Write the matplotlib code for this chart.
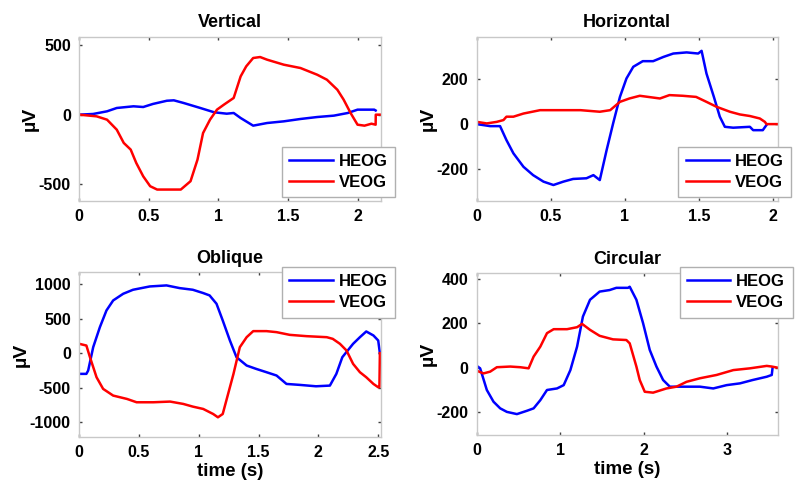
import numpy as np
import matplotlib
matplotlib.use('Agg')
import matplotlib.pyplot as plt

plt.rcParams['font.family'] = ['Liberation Sans', 'DejaVu Sans']
plt.rcParams['font.weight'] = 'bold'
plt.rcParams['axes.unicode_minus'] = False

# Vertical
v_t_h = [0, 0.1, 0.2, 0.27, 0.39, 0.46, 0.53, 0.63, 0.68, 0.75, 0.87, 0.97, 1.06, 1.11, 1.16,
         1.25, 1.35, 1.47, 1.59, 1.71, 1.83, 1.93, 2.0, 2.12, 2.13]
v_heog = [0, 5, 24, 48, 60, 55, 77, 100, 103, 84, 48, 17, 7, 12, -24,
          -79, -60, -48, -31, -17, -7, 12, 36, 36, 30]
v_t_v = [0, 0.125, 0.2, 0.27, 0.32, 0.37, 0.41, 0.46, 0.51, 0.56, 0.63, 0.73, 0.8, 0.85, 0.89,
         0.94, 0.99, 1.04, 1.11, 1.16, 1.2, 1.25, 1.3, 1.35, 1.47, 1.59, 1.71, 1.78, 1.855,
         1.9, 1.95, 2.0, 2.05, 2.1, 2.13, 2.131, 2.17]
v_veog = [0, -12, -36, -108, -203, -251, -347, -443, -514, -538, -538, -538, -478, -323, -132,
          -36, 36, 72, 120, 275, 347, 407, 414, 395, 359, 335, 287, 251, 179,
          108, 12, -72, -79, -65, -72, 0, 0]

# Horizontal
h_t_h = [0, 0.09, 0.157, 0.2, 0.247, 0.315, 0.38, 0.45, 0.517, 0.584, 0.65, 0.74, 0.787, 0.83,
         0.876, 0.92, 0.966, 1.01, 1.056, 1.12, 1.19, 1.26, 1.326, 1.416, 1.494, 1.517, 1.55,
         1.6, 1.64, 1.674, 1.73, 1.843, 1.865, 1.93, 1.955]
h_heog = [0, -9, -9, -71, -130, -190, -227, -256, -271, -256, -244, -241, -227, -249,
          -116, 3, 121, 203, 255, 280, 280, 299, 314, 319, 314, 326, 225,
          121, 33, -12, -16, -12, -27, -27, -4]
h_t_v = [0, 0.067, 0.135, 0.18, 0.2, 0.247, 0.315, 0.427, 0.54, 0.7, 0.83, 0.9, 0.966, 1.03,
         1.1, 1.236, 1.3, 1.39, 1.48, 1.55, 1.618, 1.708, 1.775, 1.843, 1.91, 1.944, 1.955, 2.03]
h_veog = [10, 3, 10, 18, 33, 33, 47, 62, 62, 62, 55, 62, 99, 114,
          126, 114, 129, 126, 121, 99, 77, 55, 43, 36, 25, 10, 0, 0]

# Oblique
o_t_h = [0, 0.06, 0.075, 0.117, 0.173, 0.228, 0.284, 0.368, 0.45, 0.59, 0.73, 0.84, 0.95, 1.037,
         1.09, 1.148, 1.2, 1.26, 1.315, 1.4, 1.48, 1.566, 1.65, 1.733, 1.845, 1.98, 2.096,
         2.15, 2.2, 2.29, 2.347, 2.4, 2.46, 2.5, 2.514]
o_heog = [-300, -300, -252, 87, 378, 620, 765, 862, 920, 968, 983, 944, 920, 872,
          838, 717, 475, 184, -58, -179, -228, -276, -324, -446, -460, -480, -470,
          -300, -58, 136, 232, 315, 257, 184, 0]
o_t_v = [0, 0.06, 0.09, 0.145, 0.2, 0.284, 0.4, 0.48, 0.62, 0.76, 0.87, 0.95, 1.037, 1.12, 1.16,
         1.2, 1.23, 1.29, 1.343, 1.4, 1.455, 1.566, 1.65, 1.76, 1.9, 2.07, 2.12, 2.18, 2.235,
         2.29, 2.347, 2.4, 2.46, 2.5, 2.51, 2.514]
o_veog = [136, 111, -58, -349, -518, -615, -664, -712, -712, -702, -736, -775, -809, -882, -930,
          -882, -688, -300, 87, 232, 320, 320, 305, 266, 247, 232, 208, 136, 39,
          -155, -276, -349, -446, -494, -494, 0]

# Circular
c_t_h = [0, 0.04, 0.12, 0.2, 0.28, 0.36, 0.48, 0.6, 0.68, 0.76, 0.84, 0.96, 1.04, 1.12, 1.2,
         1.27, 1.355, 1.47, 1.59, 1.67, 1.81, 1.83, 1.91, 1.99, 2.07, 2.15, 2.23, 2.31, 2.47,
         2.67, 2.83, 2.99, 3.15, 3.3, 3.47, 3.53, 3.54]
c_heog = [8, -3, -101, -154, -184, -200, -210, -195, -184, -147, -101, -94, -79, -11, 95,
          231, 307, 344, 351, 361, 361, 366, 307, 201, 80, 5, -56, -86, -86,
          -86, -94, -79, -71, -56, -41, -33, 0]
c_t_v = [0, 0.08, 0.16, 0.24, 0.4, 0.52, 0.62, 0.68, 0.76, 0.84, 0.92, 1.08, 1.2, 1.26, 1.355,
         1.47, 1.63, 1.79, 1.83, 1.91, 1.95, 2.01, 2.11, 2.27, 2.39, 2.51, 2.67, 2.87, 3.07,
         3.27, 3.47, 3.53, 3.6]
c_veog = [-14, -26, -18, 2, 5, 2, -3, 50, 95, 156, 174, 174, 183, 198, 171,
          144, 128, 125, 110, 5, -56, -109, -113, -94, -86, -64, -48, -33, -11,
          -3, 8, 5, 0]

panels = [
    ('Vertical', v_t_h, v_heog, v_t_v, v_veog, [0, 0.5, 1, 1.5, 2], [-500, 0, 500],
     (0, 2.17), (-620, 557), [0.099, 0.594, 0.3775, 0.331], (0.858, 0.177), False),
    ('Horizontal', h_t_h, h_heog, h_t_v, h_veog, [0, 0.5, 1, 1.5, 2], [-200, 0, 200],
     (0, 2.03), (-342, 387), [0.596, 0.594, 0.376, 0.331], (0.857, 0.177), False),
    ('Oblique', o_t_h, o_heog, o_t_v, o_veog, [0, 0.5, 1, 1.5, 2, 2.5], [-1000, -500, 0, 500, 1000],
     (0, 2.525), (-1217, 1174), [0.099, 0.117, 0.3775, 0.333], (0.858, 0.879), True),
    ('Circular', c_t_h, c_heog, c_t_v, c_veog, [0, 1, 2, 3], [-200, 0, 200, 400],
     (0, 3.6), (-305, 427), [0.596, 0.121, 0.376, 0.327], (0.862, 0.883), True),
]

fig = plt.figure(figsize=(8, 4.95), dpi=100)

for title, th, heog, tv, veog, xt, yt, xl, yl, pos, legc, xlab in panels:
    ax = fig.add_axes(pos)
    ax.plot(th, heog, color='#0000ff', lw=1.8, label='HEOG')
    ax.plot(tv, veog, color='#ff0000', lw=1.8, label='VEOG')
    ax.set_xlim(xl)
    ax.set_ylim(yl)
    ax.set_xticks(xt)
    ax.set_xticklabels([('%g' % v) for v in xt])
    ax.set_yticks(yt)
    ax.tick_params(direction='in', length=2.5, width=1, color='#404040',
                   top=True, right=True, labelsize=11.5, pad=6)
    for lab in ax.get_xticklabels() + ax.get_yticklabels():
        lab.set_fontweight('bold')
    for s in ax.spines.values():
        s.set_color('#c8c8c8')
        s.set_linewidth(1)
    ax.set_title(title, fontsize=13, fontweight='bold', pad=7)
    ax.set_ylabel('µV', fontsize=14, fontweight='bold', labelpad=0)
    if xlab:
        ax.set_xlabel('time (s)', fontsize=13.5, fontweight='bold', labelpad=2)
    leg = ax.legend(loc='center', bbox_to_anchor=legc, fontsize=12, handlelength=2.6,
                    labelspacing=0.35, borderpad=0.45, handletextpad=0.35,
                    fancybox=False, framealpha=1, borderaxespad=0)
    leg.get_frame().set_edgecolor('#b0b0b0')
    leg.get_frame().set_linewidth(1)
    for t in leg.get_texts():
        t.set_fontweight('bold')
    leg.set_clip_on(False)

fig.savefig('out.png', dpi=100)
